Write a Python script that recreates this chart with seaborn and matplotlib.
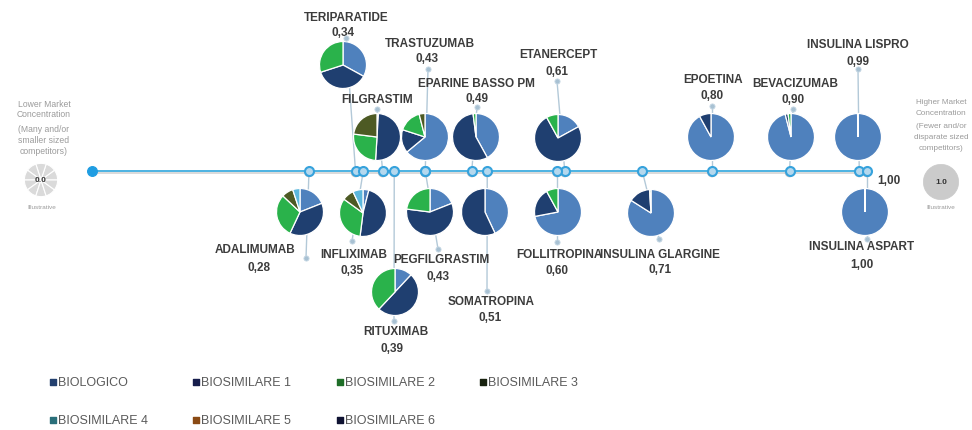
import numpy as np
import pandas as pd
import matplotlib
matplotlib.use("Agg")
import matplotlib.pyplot as plt
import seaborn as sns

# ---------------- data ----------------
products = ["TERIPARATIDE", "FILGRASTIM", "TRASTUZUMAB", "EPARINE BASSO PM",
            "ETANERCEPT", "EPOETINA", "BEVACIZUMAB", "INSULINA LISPRO",
            "ADALIMUMAB", "INFLIXIMAB", "RITUXIMAB", "PEGFILGRASTIM",
            "SOMATROPINA", "FOLLITROPINA", "INSULINA GLARGINE", "INSULINA ASPART"]
concentration = [0.34, 0.375, 0.43, 0.49, 0.61, 0.80, 0.90, 0.99,
                 0.28, 0.35, 0.39, 0.43, 0.51, 0.60, 0.71, 1.00]
value_labels = ["0,34", "", "0,43", "0,49", "0,61", "0,80", "0,90", "0,99",
                "0,28", "0,35", "0,39", "0,43", "0,51", "0,60", "0,71", "1,00"]

series_names = ["BIOLOGICO", "BIOSIMILARE 1", "BIOSIMILARE 2", "BIOSIMILARE 3",
                "BIOSIMILARE 4", "BIOSIMILARE 5", "BIOSIMILARE 6"]
biologico     = [0.33, 0.01, 0.64, 0.42, 0.17, 0.92, 0.96, 0.997, 0.19, 0.04, 0.12, 0.19, 0.43, 0.72, 0.84, 0.998]
biosimilare_1 = [0.37, 0.50, 0.16, 0.56, 0.75, 0.08, 0.02, 0.003, 0.38, 0.48, 0.50, 0.58, 0.57, 0.20, 0.15, 0.002]
biosimilare_2 = [0.30, 0.26, 0.16, 0.02, 0.08, 0.00, 0.02, 0.0, 0.30, 0.33, 0.38, 0.23, 0.00, 0.08, 0.01, 0.0]
biosimilare_3 = [0.00, 0.23, 0.04, 0.00, 0.00, 0.00, 0.00, 0.0, 0.08, 0.08, 0.00, 0.00, 0.00, 0.00, 0.00, 0.0]
biosimilare_4 = [0.00, 0.00, 0.00, 0.00, 0.00, 0.00, 0.00, 0.0, 0.05, 0.07, 0.00, 0.00, 0.00, 0.00, 0.00, 0.0]
biosimilare_5 = [0.0] * 16
biosimilare_6 = [0.0] * 16

left_text = ["Lower Market", "Concentration", "(Many and/or", "smaller sized", "competitors)"]
right_text = ["Higher Market", "Concentration", "(Fewer and/or", "disparate sized", "competitors)"]

# ---------------- styles / layout (pixels) ----------------
pie_colors = ["#4f81bd", "#1f3f70", "#2ab24b", "#4d5a24", "#5bb7dc", "#8b4a1c", "#121a3c"]
legend_colors = ["#23406e", "#161d4c", "#1f6e28", "#18220f", "#2a6f7a", "#8a4a14", "#0f1232"]

W, H = 972, 431
LINE_Y = 172
X0_PX, SCALE_PX = 92, 775

pie_cx = [343, 377, 425, 476, 558, 711, 791, 858, 300, 363, 395, 430, 485, 558, 651, 865]
pie_cy = [66, 138, 138, 138, 139, 138, 138, 138, 213, 214, 293, 213, 213, 213, 214, 213]
pie_r = 23.5
name_x = [346, 377, 430, 476, 558, 713, 795, 858, 255, 354, 396, 441, 491, 559, 660, 862]
name_y = [18, 100, 44, 84, 55, 80, 84, 45, 250, 255, 332, 260, 302, 255, 255, 247]
val_x = [343, 377, 427, 477, 557, 712, 793, 858, 259, 352, 392, 438, 490, 557, 660, 862]
val_y = [33, 0, 59, 99, 72, 96, 100, 62, 268, 271, 349, 277, 318, 271, 270, 265]
dot_x = [346, 377, 428, 477, 557, 712, 793, 858, 306, 352, 394, 438, 487, 557, 659, 867]
dot_y = [39, 110, 70, 108, 82, 107, 110, 70, 259, 242, 322, 250, 292, 243, 240, 240]

sns.set_theme(style="white")
plt.rcParams["font.family"] = ["Liberation Sans", "DejaVu Sans"]
label_font = ["Liberation Sans Narrow", "Liberation Sans", "DejaVu Sans"]

fig = plt.figure(figsize=(W / 100, H / 100), dpi=100)
fig.patch.set_facecolor("white")

# timeline axes: x in concentration units, y in pixel rows
ax = fig.add_axes([0, 0, 1, 1])
ax.set_xlim(-X0_PX / SCALE_PX, (W - X0_PX) / SCALE_PX)
ax.set_ylim(H, 0)
ax.axis("off")

line_df = pd.DataFrame({"x": [0.0, 1.0], "y": [LINE_Y, LINE_Y]})
ax.plot(line_df["x"], line_df["y"] + 2.0, color="#dadada", lw=1.4, zorder=1)
sns.lineplot(data=line_df, x="x", y="y", ax=ax, color="#4cb2e2", lw=1.4, zorder=2)

# connectors (beneath pies)
inv = ax.transData.inverted()
for i in range(len(products)):
    dx, _ = inv.transform((dot_x[i], H - dot_y[i]))
    ax.plot([concentration[i], dx], [LINE_Y, dot_y[i]], color="#b3c9d8", lw=1.0, zorder=1.5)

sns.scatterplot(x=[0.0], y=[LINE_Y], ax=ax, s=50, color="#1f9de2", edgecolor="#1f9de2",
                linewidth=0.8, zorder=4, legend=False)
sns.scatterplot(x=concentration, y=[LINE_Y + 1.5] * len(concentration), ax=ax, s=48,
                color="#c4c4c4", edgecolor="none", linewidth=0, zorder=3.5, legend=False)
sns.scatterplot(x=concentration, y=[LINE_Y] * len(concentration), ax=ax, s=42,
                color="#b4d8ee", edgecolor="#36a2dc", linewidth=1.5, zorder=4, legend=False)

# pies
shares = np.array([biologico, biosimilare_1, biosimilare_2, biosimilare_3,
                   biosimilare_4, biosimilare_5, biosimilare_6]).T
for i in range(len(products)):
    cx, cy = pie_cx[i], pie_cy[i]
    pad = pie_r * 1.02
    pa = fig.add_axes([(cx - pad) / W, 1 - (cy + pad) / H, 2 * pad / W, 2 * pad / H])
    vals = shares[i]
    mask = vals > 0
    pa.pie(vals[mask], colors=[c for c, m in zip(pie_colors, mask) if m],
           startangle=90, counterclock=False,
           wedgeprops=dict(edgecolor="white", linewidth=0.9))
    pa.set_xlim(-1.02, 1.02)
    pa.set_ylim(-1.02, 1.02)
    pa.set_aspect("equal")
    pa.axis("off")

# side illustrations
lp = fig.add_axes([(41 - 17) / W, 1 - (181 + 17) / H, 34 / W, 34 / H])
lp.pie([1] * 10, colors=["#dadada"] * 10, wedgeprops=dict(edgecolor="white", linewidth=0.8))
lp.set_xlim(-1.02, 1.02); lp.set_ylim(-1.02, 1.02); lp.axis("off")
rp = fig.add_axes([(941 - 18) / W, 1 - (183 + 18) / H, 36 / W, 36 / H])
rp.pie([1], colors=["#cbcbcb"], wedgeprops=dict(edgecolor="#cbcbcb", linewidth=0.5))
rp.set_xlim(-1.02, 1.02); rp.set_ylim(-1.02, 1.02); rp.axis("off")

# overlay axes for text (pixel coords)
ov = fig.add_axes([0, 0, 1, 1])
ov.set_xlim(0, W)
ov.set_ylim(H, 0)
ov.axis("off")
ov.patch.set_alpha(0)

ov.scatter(dot_x, dot_y, s=14, color="#a8c1d3", edgecolor="#c8d9e5", linewidth=0.6, zorder=5)

txt_color = "#3c3c3c"
for i, name in enumerate(products):
    ov.text(name_x[i], name_y[i], name, ha="center", va="center", fontsize=8.5,
            fontweight="bold", color=txt_color, family=label_font)
    if value_labels[i]:
        ov.text(val_x[i], val_y[i], value_labels[i], ha="center", va="center", fontsize=8.5,
                fontweight="bold", color=txt_color, family=label_font)
ov.text(877, 181, "1,00", ha="left", va="center", fontsize=8.5, fontweight="bold",
        color=txt_color, family=label_font)

side_col = "#9b9b9b"
for t, y in zip(left_text, [105, 115, 130, 141, 152]):
    ov.text(44, y, t, ha="center", va="center", fontsize=6.2, color=side_col)
for t, y in zip(right_text, [103, 114, 127, 138, 149]):
    ov.text(941, y, t, ha="center", va="center", fontsize=5.9, color=side_col)
ov.text(41, 181, "0.0", ha="center", va="center", fontsize=6, fontweight="bold", color="#333333")
ov.text(941, 183, "1.0", ha="center", va="center", fontsize=6, fontweight="bold", color="#333333")
ov.text(42, 208, "Illustrative", ha="center", va="center", fontsize=4.6, color=side_col)
ov.text(941, 208, "Illustrative", ha="center", va="center", fontsize=4.6, color=side_col)

# legend
leg_x = [50, 193, 337, 480, 50, 193, 337]
leg_y = [383, 383, 383, 383, 421, 421, 421]
for name, col, lx, ly in zip(series_names, legend_colors, leg_x, leg_y):
    ov.scatter([lx + 2.5], [ly], marker="s", s=16, color=col, zorder=5)
    ov.text(lx + 7.5, ly, name, ha="left", va="center", fontsize=9, color="#5a5a5a")

fig.savefig("out.png", dpi=100, facecolor="white")
